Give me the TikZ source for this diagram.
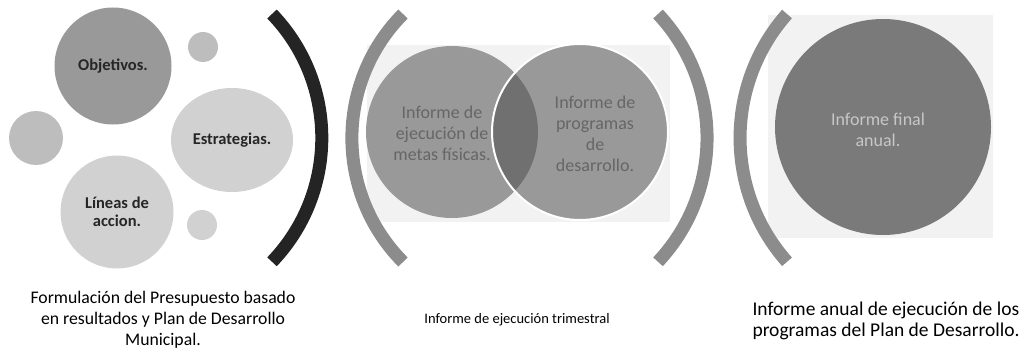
\documentclass[tikz,border=0pt]{standalone}
\usepackage{fontspec}
\setmainfont{Carlito}
\usepackage{tikz}
\usetikzlibrary{shapes.geometric}

\definecolor{dotdark}{gray}{0.60}
\definecolor{dotlight}{gray}{0.82}
\definecolor{dotmid}{gray}{0.74}
\definecolor{venn}{gray}{0.60}
\definecolor{vennmix}{gray}{0.44}
\definecolor{panel}{gray}{0.95}
\definecolor{annual}{gray}{0.48}
\definecolor{arcdark}{gray}{0.14}
\definecolor{arcgray}{gray}{0.55}

\tikzset{
  bubble/.style={circle, inner sep=0pt, align=center, text=black!85,
    font=\fontsize{16.5}{18}\selectfont\bfseries},
  blurtext/.style={align=center, text=black!60,
    font=\fontsize{18}{21}\selectfont},
  caption/.style={align=center, text=black},
  bracket/.style={line width=13pt, line cap=butt},
}

\begin{document}
\begin{tikzpicture}[x=1pt, y=-1pt]
  \useasboundingbox (0,0) rectangle (1024,353);

  % formulacion
  \node[bubble, fill=dotdark, minimum size=117pt] (Obj) at (113, 66) {Objetivos.};
  \node[bubble, fill=dotmid, minimum size=30pt] (ST) at (203, 47) {};
  \node[bubble, ellipse, fill=dotlight, minimum width=122pt, minimum height=104pt] (Est) at (232, 140) {Estrategias.};
  \node[bubble, fill=dotmid, minimum size=54pt] (SL) at (36, 138) {};
  \node[bubble, fill=dotlight, minimum size=113pt] (Lin) at (117, 212) {L\'ineas de\\accion.};
  \node[bubble, fill=dotlight, minimum size=30pt] (SB) at (202, 225) {};
  \draw[bracket, arcdark] (272, 14) arc[start angle=-43.8, end angle=43.8, radius=179];

  % trimestral
  \fill[panel] (367, 45) rectangle (670, 222);
  \node[circle, fill=venn, minimum size=172pt] (VL) at (452, 132) {};
  \node[circle, fill=venn, minimum size=176pt] (VR) at (580, 132) {};
  \begin{scope}
    \clip (452, 132) circle[radius=86];
    \fill[vennmix] (580, 132) circle[radius=88];
  \end{scope}
  \draw[white, line width=2pt] (580, 132) circle[radius=88];
  \node[blurtext] (VLt) at (442, 133) {Informe de\\ejecuci\'on de\\metas f\'isicas.};
  \node[blurtext] (VRt) at (595, 134) {Informe de\\programas\\de\\desarrollo.};
  \draw[bracket, arcgray] (403, 14) arc[start angle=224.8, end angle=135.2, radius=176];
  \draw[bracket, arcgray] (658, 14) arc[start angle=-43.2, end angle=43.2, radius=181];

  % anual
  \fill[panel] (768, 15) rectangle (993, 238);
  \node[circle, fill=annual, minimum size=216pt] (An) at (883, 127) {};
  \node[blurtext, text=white!78!black] (Ant) at (878, 130) {Informe final\\anual.};
  \draw[bracket, arcgray] (787, 14) arc[start angle=221.5, end angle=138.5, radius=187];

  % captions
  \node[caption, font=\fontsize{17.7}{21}\selectfont] (Form) at (163, 320) {Formulaci\'on del Presupuesto basado\\en resultados y Plan de Desarrollo\\Municipal.};
  \node[caption, font=\fontsize{14.5}{17}\selectfont] (Trim) at (517, 320) {Informe de ejecuci\'on trimestral};
  \node[caption, align=left, font=\fontsize{19.5}{21}\selectfont] (Anual) at (886, 321) {Informe anual de ejecuci\'on de los\\programas del Plan de Desarrollo.};
\end{tikzpicture}
\end{document}
